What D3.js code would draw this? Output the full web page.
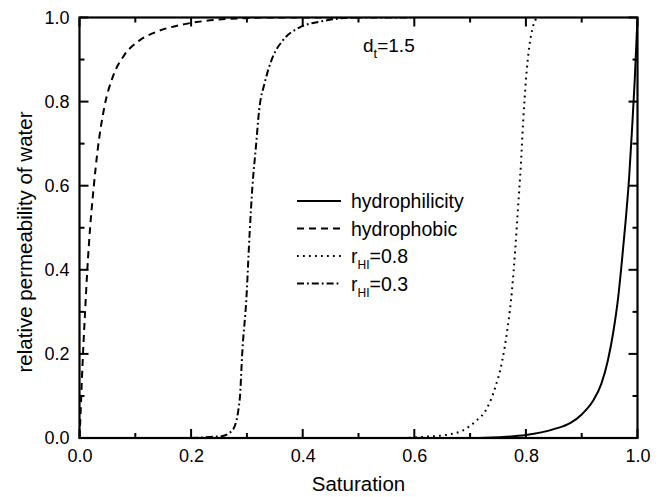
<!DOCTYPE html>
<html>
<head>
<meta charset="utf-8">
<script src="https://cdn.jsdelivr.net/npm/d3@7"></script>
<style>
  body { margin: 0; background: #fff; }
  svg text { font-family: "Liberation Sans", Arial, sans-serif; fill: #000; }
</style>
</head>
<body>
<script>
// saturation / permeability pairs
const hydrophilicS = [0.70, 0.75, 0.80, 0.85, 0.88, 0.90, 0.92, 0.935, 0.947, 0.957, 0.965, 0.972, 0.979, 0.985, 0.99, 0.995, 1.0]
const hydrophilicK = [0.0, 0.002, 0.007, 0.021, 0.036, 0.056, 0.088, 0.128, 0.185, 0.255, 0.33, 0.42, 0.52, 0.62, 0.73, 0.85, 1.0]

const hydrophobicS = [0.0, 0.002, 0.004, 0.007, 0.01, 0.014, 0.019, 0.025, 0.033, 0.045, 0.06, 0.08, 0.107, 0.14, 0.18, 0.22, 0.27, 0.35, 0.5]
const hydrophobicK = [0.0, 0.06, 0.13, 0.22, 0.30, 0.40, 0.50, 0.59, 0.69, 0.79, 0.86, 0.91, 0.945, 0.967, 0.982, 0.991, 0.997, 1.0, 1.0]

const r08S = [0.58, 0.62, 0.66, 0.69, 0.71, 0.73, 0.745, 0.757, 0.767, 0.775, 0.781, 0.786, 0.791, 0.795, 0.80, 0.806, 0.813, 0.82]
const r08K = [0.0, 0.003, 0.008, 0.02, 0.04, 0.07, 0.12, 0.18, 0.26, 0.35, 0.45, 0.55, 0.65, 0.75, 0.85, 0.93, 0.98, 1.0]

const r03S = [0.20, 0.24, 0.257, 0.275, 0.287, 0.292, 0.299, 0.305, 0.31, 0.316, 0.322, 0.332, 0.346, 0.364, 0.394, 0.43, 0.5, 0.6]
const r03K = [0.0, 0.003, 0.005, 0.02, 0.09, 0.21, 0.33, 0.49, 0.60, 0.69, 0.78, 0.845, 0.905, 0.945, 0.976, 0.99, 1.0, 1.0]

const seriesNames = ["hydrophilicity", "hydrophobic", "r_HI=0.8", "r_HI=0.3"]
const majorTicks = [0, 0.2, 0.4, 0.6, 0.8, 1.0]
const minorTicks = [0.1, 0.3, 0.5, 0.7, 0.9]

const width = 661
const height = 497
const plotLeft = 79.5, plotRight = 637.5, plotTop = 17.5, plotBottom = 438

const svg = d3.select("body").append("svg")
    .attr("width", width)
    .attr("height", height)

const x = d3.scaleLinear().domain([0, 1]).range([plotLeft, plotRight])
const y = d3.scaleLinear().domain([0, 1]).range([plotBottom, plotTop])

/* curves */
const dashStyles = [null, "7,5", "1.8,4.2", "7,3,1.8,3"]
const allSeries = [
    d3.zip(hydrophilicS, hydrophilicK),
    d3.zip(hydrophobicS, hydrophobicK),
    d3.zip(r08S, r08K),
    d3.zip(r03S, r03K)
]

const line = d3.line()
    .x(d => x(d[0]))
    .y(d => y(d[1]))
    .curve(d3.curveMonotoneX)

const clip = svg.append("clipPath").attr("id", "plot-clip")
clip.append("rect").attr("x", plotLeft).attr("y", plotTop).attr("width", plotRight - plotLeft).attr("height", plotBottom - plotTop)

svg.append("g").attr("clip-path", "url(#plot-clip)")
    .selectAll("path")
    .data(allSeries)
    .enter()
    .append("path")
    .attr("d", d => line(d))
    .attr("fill", "none")
    .attr("stroke", "#000")
    .attr("stroke-width", 2)
    .attr("stroke-dasharray", (d, i) => dashStyles[i])

/* tick labels from d3 axes */
function styleAxis(g) {
    g.select(".domain").remove()
    g.selectAll(".tick line").remove()
    g.selectAll(".tick text").attr("font-size", 18).attr("fill", "#000")
}

svg.append("g").attr("transform", `translate(0,${plotBottom})`)
    .call(d3.axisBottom(x).tickValues(majorTicks).tickSize(0).tickFormat(d3.format(".1f")).tickPadding(11))
    .call(styleAxis)
svg.append("g").attr("transform", `translate(${plotLeft},0)`)
    .call(d3.axisLeft(y).tickValues(majorTicks).tickSize(0).tickFormat(d3.format(".1f")).tickPadding(10))
    .call(styleAxis)

/* inward tick marks on all four sides */
const allTicks = majorTicks.map(v => ({ v: v, len: 9 })).concat(minorTicks.map(v => ({ v: v, len: 5 })))
const tickGroup = svg.append("g").attr("stroke", "#000").attr("stroke-width", 2)

tickGroup.selectAll(".xb").data(allTicks).enter().append("line")
    .attr("x1", d => x(d.v)).attr("x2", d => x(d.v))
    .attr("y1", plotBottom).attr("y2", d => plotBottom - d.len)
tickGroup.selectAll(".xt").data(allTicks).enter().append("line")
    .attr("x1", d => x(d.v)).attr("x2", d => x(d.v))
    .attr("y1", plotTop).attr("y2", d => plotTop + d.len)
tickGroup.selectAll(".yl").data(allTicks).enter().append("line")
    .attr("y1", d => y(d.v)).attr("y2", d => y(d.v))
    .attr("x1", plotLeft).attr("x2", d => plotLeft + d.len)
tickGroup.selectAll(".yr").data(allTicks).enter().append("line")
    .attr("y1", d => y(d.v)).attr("y2", d => y(d.v))
    .attr("x1", plotRight).attr("x2", d => plotRight - d.len)

svg.append("rect")
    .attr("x", plotLeft).attr("y", plotTop)
    .attr("width", plotRight - plotLeft).attr("height", plotBottom - plotTop)
    .attr("fill", "none").attr("stroke", "#000").attr("stroke-width", 2.2)

/* axis titles */
svg.append("text")
    .attr("x", (plotLeft + plotRight) / 2)
    .attr("y", 491)
    .attr("text-anchor", "middle")
    .attr("font-size", 20.5)
    .text("Saturation")

svg.append("text")
    .attr("transform", `translate(32,242) rotate(-90)`)
    .attr("text-anchor", "middle")
    .attr("font-size", 20.5)
    .text("relative permeability of water")

/* annotation */
const ann = svg.append("text").attr("x", 363).attr("y", 52).attr("font-size", 19)
ann.append("tspan").text("d")
ann.append("tspan").attr("dy", 6).attr("font-size", 13).text("t")
ann.append("tspan").attr("dy", -6).text("=1.5")

/* legend */
const legend = svg.append("g")
const rowY = i => 201 + i * 27.5
seriesNames.forEach((name, i) => {
    legend.append("line")
        .attr("x1", 297).attr("x2", 341)
        .attr("y1", rowY(i)).attr("y2", rowY(i))
        .attr("stroke", "#000").attr("stroke-width", 2)
        .attr("stroke-dasharray", dashStyles[i])
    const t = legend.append("text")
        .attr("x", 351).attr("y", rowY(i) + 7)
        .attr("font-size", 19.5)
    if (name.startsWith("r_HI")) {
        t.append("tspan").text("r")
        t.append("tspan").attr("dy", 6).attr("font-size", 12).text("HI")
        t.append("tspan").attr("dy", -6).text(name.slice(4))
    } else {
        t.text(name)
    }
})
</script>
</body>
</html>
